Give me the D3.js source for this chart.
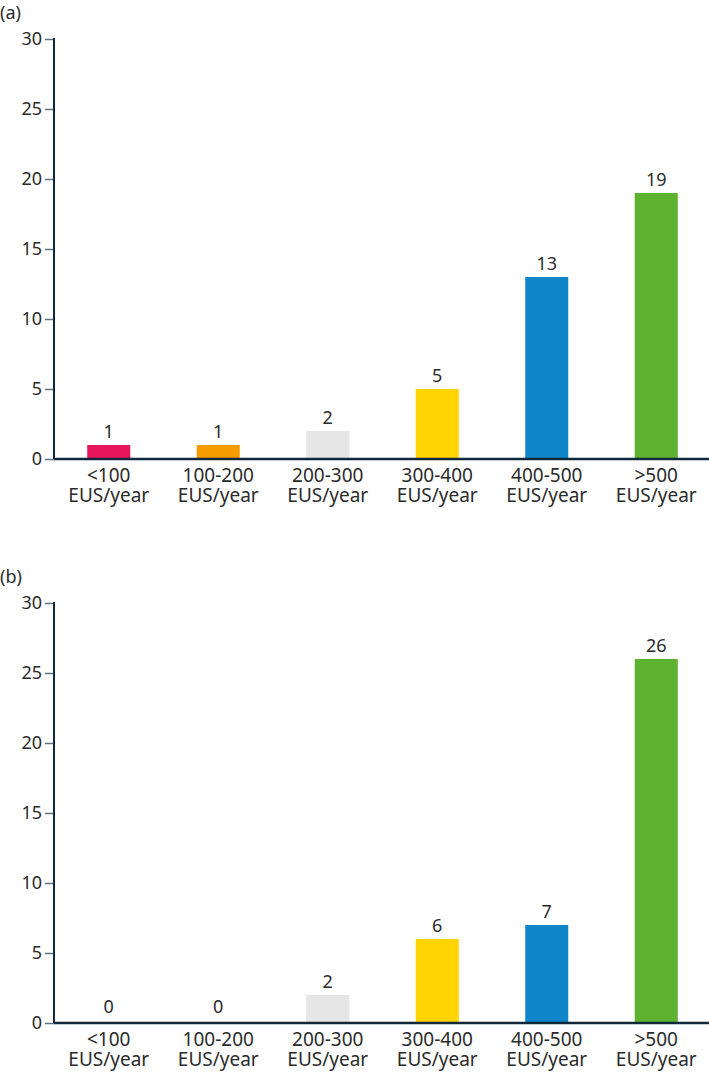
<!DOCTYPE html>
<html>
<head>
<meta charset="utf-8">
<script src="https://cdn.jsdelivr.net/npm/d3@7"></script>
<style>
  body { margin: 0; background: #fff; }
  svg { display: block; font-family: "Noto Sans", sans-serif; }
</style>
</head>
<body>
<svg id="chart" width="709" height="1077"></svg>
<script>
// categories and values
const categories = ["<100", "100-200", "200-300", "300-400", "400-500", ">500"];
const unitLabel = "EUS/year";
const valuesA = [1, 1, 2, 5, 13, 19];
const valuesB = [0, 0, 2, 6, 7, 26];
const barColors = ["#e8175d", "#f59c00", "#e6e6e6", "#ffd400", "#0e86c9", "#5db22f"];
const yTicks = [0, 5, 10, 15, 20, 25, 30];
const panels = [
  { label: "(a)", values: valuesA, top: 39 },
  { label: "(b)", values: valuesB, top: 603 }
];

const svg = d3.select("#chart");
const axisColor = "#10283b";
const textColor = "#2b2b2b";

const x = d3.scaleBand()
  .domain(categories)
  .range([54, 711])
  .paddingInner(0.607)
  .paddingOuter(0.3035);

panels.forEach((p) => {
  const g = svg.append("g");
  const y = d3.scaleLinear().domain([0, 30]).range([p.top + 420, p.top]);

  // panel label
  g.append("text")
    .attr("x", 0)
    .attr("y", p.top - 20)
    .attr("font-size", 18)
    .attr("fill", textColor)
    .text(p.label);

  // bars
  g.selectAll("rect")
    .data(p.values)
    .join("rect")
    .attr("x", (d, i) => x(categories[i]))
    .attr("width", x.bandwidth())
    .attr("y", (d) => y(d))
    .attr("height", (d) => y(0) - y(d))
    .attr("fill", (d, i) => barColors[i]);

  // value labels
  g.selectAll("text.val")
    .data(p.values)
    .join("text")
    .attr("class", "val")
    .attr("x", (d, i) => x(categories[i]) + x.bandwidth() / 2)
    .attr("y", (d) => y(d) - (d === 0 ? 10 : 7))
    .attr("text-anchor", "middle")
    .attr("font-size", 18)
    .attr("fill", textColor)
    .text((d) => d);

  // y axis
  const yAxis = g.append("g")
    .attr("transform", "translate(54,0)")
    .call(d3.axisLeft(y).tickValues(yTicks).tickSize(9).tickPadding(3));
  yAxis.select(".domain").remove();
  yAxis.selectAll(".tick line").attr("stroke", "#5f7282").attr("stroke-width", 1.5);
  yAxis.selectAll(".tick text")
    .attr("font-size", 18)
    .attr("font-family", "Noto Sans, sans-serif")
    .attr("fill", textColor);
  g.append("line")
    .attr("x1", 54).attr("x2", 54)
    .attr("y1", y(30) - 1).attr("y2", y(0))
    .attr("stroke", axisColor).attr("stroke-width", 2);
  g.append("line")
    .attr("x1", 54).attr("x2", 709)
    .attr("y1", y(0)).attr("y2", y(0))
    .attr("stroke", axisColor).attr("stroke-width", 2.5);

  // x category labels
  const xl = g.selectAll("text.cat")
    .data(categories)
    .join("text")
    .attr("class", "cat")
    .attr("text-anchor", "middle")
    .attr("font-size", 19)
    .attr("fill", textColor);
  xl.append("tspan")
    .attr("x", (d) => x(d) + x.bandwidth() / 2)
    .attr("y", y(0) + 23)
    .text((d) => d);
  xl.append("tspan")
    .attr("x", (d) => x(d) + x.bandwidth() / 2)
    .attr("y", y(0) + 43)
    .text(unitLabel);
});
</script>
</body>
</html>
